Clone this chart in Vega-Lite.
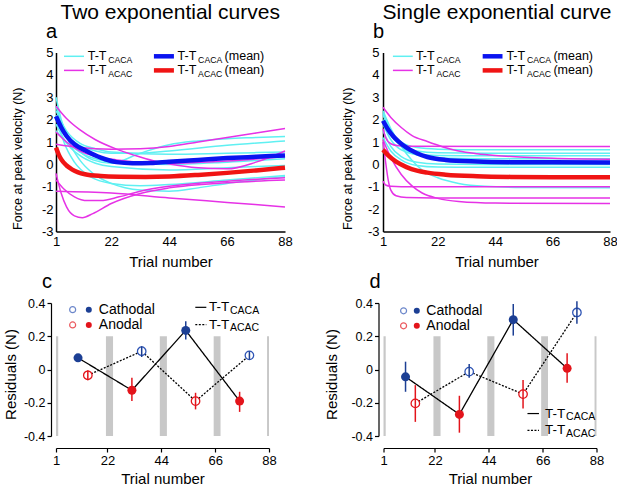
{
  "$schema": "https://vega.github.io/schema/vega-lite/v6.json",
  "background": "white",
  "padding": {"left": 2, "top": 1.5, "right": 0, "bottom": 0},
  "config": {
    "font": "Liberation Sans",
    "view": {"stroke": null},
    "axis": {"grid": false, "domainColor": "black", "tickColor": "black", "labelColor": "black", "titleColor": "black", "titleFontWeight": "normal", "labelOverlap": false, "tickCount": 20},
    "title": {"fontWeight": "normal", "color": "black"}
  },
  "resolve": {"scale": {"color": "independent", "stroke": "independent", "strokeDash": "independent"}},
  "datasets": {
    "curves": [
      {"panel":"a","curve":"c1","group":"CACA","trial":1,"force":3.0},{"panel":"a","curve":"c1","group":"CACA","trial":3,"force":2.0},{"panel":"a","curve":"c1","group":"CACA","trial":6,"force":1.0},{"panel":"a","curve":"c1","group":"CACA","trial":10,"force":0.2},{"panel":"a","curve":"c1","group":"CACA","trial":15,"force":-0.4},{"panel":"a","curve":"c1","group":"CACA","trial":22,"force":-0.85},{"panel":"a","curve":"c1","group":"CACA","trial":33,"force":-1.15},{"panel":"a","curve":"c1","group":"CACA","trial":44,"force":-1.2},{"panel":"a","curve":"c1","group":"CACA","trial":55,"force":-1.05},{"panel":"a","curve":"c1","group":"CACA","trial":66,"force":-0.85},{"panel":"a","curve":"c1","group":"CACA","trial":77,"force":-0.7},{"panel":"a","curve":"c1","group":"CACA","trial":88,"force":-0.55},
      {"panel":"a","curve":"c2","group":"CACA","trial":1,"force":2.6},{"panel":"a","curve":"c2","group":"CACA","trial":3,"force":1.9},{"panel":"a","curve":"c2","group":"CACA","trial":6,"force":1.2},{"panel":"a","curve":"c2","group":"CACA","trial":10,"force":0.6},{"panel":"a","curve":"c2","group":"CACA","trial":15,"force":0.2},{"panel":"a","curve":"c2","group":"CACA","trial":22,"force":0.05},{"panel":"a","curve":"c2","group":"CACA","trial":33,"force":0.5},{"panel":"a","curve":"c2","group":"CACA","trial":44,"force":0.88},{"panel":"a","curve":"c2","group":"CACA","trial":55,"force":1.05},{"panel":"a","curve":"c2","group":"CACA","trial":66,"force":1.15},{"panel":"a","curve":"c2","group":"CACA","trial":77,"force":1.2},{"panel":"a","curve":"c2","group":"CACA","trial":88,"force":1.25},
      {"panel":"a","curve":"c3","group":"CACA","trial":1,"force":2.0},{"panel":"a","curve":"c3","group":"CACA","trial":5,"force":1.3},{"panel":"a","curve":"c3","group":"CACA","trial":10,"force":0.85},{"panel":"a","curve":"c3","group":"CACA","trial":16,"force":0.6},{"panel":"a","curve":"c3","group":"CACA","trial":22,"force":0.5},{"panel":"a","curve":"c3","group":"CACA","trial":33,"force":0.5},{"panel":"a","curve":"c3","group":"CACA","trial":44,"force":0.6},{"panel":"a","curve":"c3","group":"CACA","trial":66,"force":0.85},{"panel":"a","curve":"c3","group":"CACA","trial":88,"force":1.05},
      {"panel":"a","curve":"c4","group":"CACA","trial":1,"force":2.4},{"panel":"a","curve":"c4","group":"CACA","trial":5,"force":1.5},{"panel":"a","curve":"c4","group":"CACA","trial":10,"force":0.95},{"panel":"a","curve":"c4","group":"CACA","trial":16,"force":0.7},{"panel":"a","curve":"c4","group":"CACA","trial":22,"force":0.55},{"panel":"a","curve":"c4","group":"CACA","trial":44,"force":0.45},{"panel":"a","curve":"c4","group":"CACA","trial":66,"force":0.5},{"panel":"a","curve":"c4","group":"CACA","trial":88,"force":0.55},
      {"panel":"a","curve":"c5","group":"CACA","trial":1,"force":1.5},{"panel":"a","curve":"c5","group":"CACA","trial":5,"force":1.0},{"panel":"a","curve":"c5","group":"CACA","trial":10,"force":0.55},{"panel":"a","curve":"c5","group":"CACA","trial":16,"force":0.25},{"panel":"a","curve":"c5","group":"CACA","trial":22,"force":0.1},{"panel":"a","curve":"c5","group":"CACA","trial":44,"force":0.0},{"panel":"a","curve":"c5","group":"CACA","trial":66,"force":0.1},{"panel":"a","curve":"c5","group":"CACA","trial":88,"force":0.25},
      {"panel":"a","curve":"c6","group":"CACA","trial":1,"force":1.8},{"panel":"a","curve":"c6","group":"CACA","trial":5,"force":0.95},{"panel":"a","curve":"c6","group":"CACA","trial":10,"force":0.4},{"panel":"a","curve":"c6","group":"CACA","trial":16,"force":0.05},{"panel":"a","curve":"c6","group":"CACA","trial":22,"force":-0.1},{"panel":"a","curve":"c6","group":"CACA","trial":44,"force":-0.25},{"panel":"a","curve":"c6","group":"CACA","trial":66,"force":-0.15},{"panel":"a","curve":"c6","group":"CACA","trial":88,"force":-0.05},
      {"panel":"a","curve":"c7","group":"CACA","trial":1,"force":2.2},{"panel":"a","curve":"c7","group":"CACA","trial":4,"force":1.0},{"panel":"a","curve":"c7","group":"CACA","trial":8,"force":0.1},{"panel":"a","curve":"c7","group":"CACA","trial":14,"force":-0.55},{"panel":"a","curve":"c7","group":"CACA","trial":22,"force":-0.85},{"panel":"a","curve":"c7","group":"CACA","trial":33,"force":-0.95},{"panel":"a","curve":"c7","group":"CACA","trial":44,"force":-0.9},{"panel":"a","curve":"c7","group":"CACA","trial":66,"force":-0.7},{"panel":"a","curve":"c7","group":"CACA","trial":88,"force":-0.5},
      {"panel":"a","curve":"m1","group":"ACAC","trial":1,"force":2.6},{"panel":"a","curve":"m1","group":"ACAC","trial":5,"force":2.05},{"panel":"a","curve":"m1","group":"ACAC","trial":10,"force":1.55},{"panel":"a","curve":"m1","group":"ACAC","trial":16,"force":1.1},{"panel":"a","curve":"m1","group":"ACAC","trial":24,"force":0.68},{"panel":"a","curve":"m1","group":"ACAC","trial":31,"force":0.4},{"panel":"a","curve":"m1","group":"ACAC","trial":38,"force":0.16},{"panel":"a","curve":"m1","group":"ACAC","trial":44,"force":0.02},{"panel":"a","curve":"m1","group":"ACAC","trial":55,"force":-0.15},{"panel":"a","curve":"m1","group":"ACAC","trial":66,"force":-0.2},{"panel":"a","curve":"m1","group":"ACAC","trial":77,"force":0.1},{"panel":"a","curve":"m1","group":"ACAC","trial":88,"force":0.6},
      {"panel":"a","curve":"m2","group":"ACAC","trial":1,"force":0.9},{"panel":"a","curve":"m2","group":"ACAC","trial":10,"force":0.75},{"panel":"a","curve":"m2","group":"ACAC","trial":22,"force":0.68},{"panel":"a","curve":"m2","group":"ACAC","trial":33,"force":0.7},{"panel":"a","curve":"m2","group":"ACAC","trial":44,"force":0.8},{"panel":"a","curve":"m2","group":"ACAC","trial":55,"force":1.0},{"panel":"a","curve":"m2","group":"ACAC","trial":66,"force":1.2},{"panel":"a","curve":"m2","group":"ACAC","trial":77,"force":1.4},{"panel":"a","curve":"m2","group":"ACAC","trial":88,"force":1.6},
      {"panel":"a","curve":"m3","group":"ACAC","trial":1,"force":1.45},{"panel":"a","curve":"m3","group":"ACAC","trial":5,"force":1.0},{"panel":"a","curve":"m3","group":"ACAC","trial":10,"force":0.6},{"panel":"a","curve":"m3","group":"ACAC","trial":16,"force":0.35},{"panel":"a","curve":"m3","group":"ACAC","trial":24,"force":0.2},{"panel":"a","curve":"m3","group":"ACAC","trial":33,"force":0.1},{"panel":"a","curve":"m3","group":"ACAC","trial":44,"force":0.05},{"panel":"a","curve":"m3","group":"ACAC","trial":66,"force":0.15},{"panel":"a","curve":"m3","group":"ACAC","trial":88,"force":0.35},
      {"panel":"a","curve":"m4","group":"ACAC","trial":1,"force":-1.2},{"panel":"a","curve":"m4","group":"ACAC","trial":22,"force":-1.28},{"panel":"a","curve":"m4","group":"ACAC","trial":44,"force":-1.5},{"panel":"a","curve":"m4","group":"ACAC","trial":66,"force":-1.7},{"panel":"a","curve":"m4","group":"ACAC","trial":88,"force":-1.9},
      {"panel":"a","curve":"m5","group":"ACAC","trial":1,"force":-0.4},{"panel":"a","curve":"m5","group":"ACAC","trial":3,"force":-1.3},{"panel":"a","curve":"m5","group":"ACAC","trial":5,"force":-1.9},{"panel":"a","curve":"m5","group":"ACAC","trial":8,"force":-2.3},{"panel":"a","curve":"m5","group":"ACAC","trial":11,"force":-2.38},{"panel":"a","curve":"m5","group":"ACAC","trial":15,"force":-2.2},{"panel":"a","curve":"m5","group":"ACAC","trial":22,"force":-1.75},{"panel":"a","curve":"m5","group":"ACAC","trial":33,"force":-1.3},{"panel":"a","curve":"m5","group":"ACAC","trial":44,"force":-1.05},{"panel":"a","curve":"m5","group":"ACAC","trial":66,"force":-0.82},{"panel":"a","curve":"m5","group":"ACAC","trial":88,"force":-0.7},
      {"panel":"a","curve":"m6","group":"ACAC","trial":1,"force":-0.7},{"panel":"a","curve":"m6","group":"ACAC","trial":4,"force":-1.1},{"panel":"a","curve":"m6","group":"ACAC","trial":8,"force":-1.45},{"panel":"a","curve":"m6","group":"ACAC","trial":13,"force":-1.62},{"panel":"a","curve":"m6","group":"ACAC","trial":18,"force":-1.62},{"panel":"a","curve":"m6","group":"ACAC","trial":25,"force":-1.45},{"panel":"a","curve":"m6","group":"ACAC","trial":33,"force":-1.2},{"panel":"a","curve":"m6","group":"ACAC","trial":44,"force":-0.98},{"panel":"a","curve":"m6","group":"ACAC","trial":66,"force":-0.75},{"panel":"a","curve":"m6","group":"ACAC","trial":88,"force":-0.6},
      {"panel":"a","curve":"mb","group":"CACA mean","trial":1,"force":2.15},{"panel":"a","curve":"mb","group":"CACA mean","trial":3,"force":1.65},{"panel":"a","curve":"mb","group":"CACA mean","trial":5,"force":1.27},{"panel":"a","curve":"mb","group":"CACA mean","trial":8,"force":0.9},{"panel":"a","curve":"mb","group":"CACA mean","trial":12,"force":0.63},{"panel":"a","curve":"mb","group":"CACA mean","trial":18,"force":0.3},{"panel":"a","curve":"mb","group":"CACA mean","trial":24,"force":0.1},{"panel":"a","curve":"mb","group":"CACA mean","trial":30,"force":0.05},{"panel":"a","curve":"mb","group":"CACA mean","trial":37,"force":0.06},{"panel":"a","curve":"mb","group":"CACA mean","trial":44,"force":0.12},{"panel":"a","curve":"mb","group":"CACA mean","trial":55,"force":0.2},{"panel":"a","curve":"mb","group":"CACA mean","trial":66,"force":0.28},{"panel":"a","curve":"mb","group":"CACA mean","trial":77,"force":0.34},{"panel":"a","curve":"mb","group":"CACA mean","trial":88,"force":0.4},
      {"panel":"a","curve":"mr","group":"ACAC mean","trial":1,"force":0.75},{"panel":"a","curve":"mr","group":"ACAC mean","trial":2,"force":0.45},{"panel":"a","curve":"mr","group":"ACAC mean","trial":3,"force":0.22},{"panel":"a","curve":"mr","group":"ACAC mean","trial":5,"force":-0.05},{"panel":"a","curve":"mr","group":"ACAC mean","trial":7,"force":-0.22},{"panel":"a","curve":"mr","group":"ACAC mean","trial":12,"force":-0.44},{"panel":"a","curve":"mr","group":"ACAC mean","trial":18,"force":-0.52},{"panel":"a","curve":"mr","group":"ACAC mean","trial":25,"force":-0.55},{"panel":"a","curve":"mr","group":"ACAC mean","trial":35,"force":-0.56},{"panel":"a","curve":"mr","group":"ACAC mean","trial":44,"force":-0.54},{"panel":"a","curve":"mr","group":"ACAC mean","trial":55,"force":-0.47},{"panel":"a","curve":"mr","group":"ACAC mean","trial":66,"force":-0.38},{"panel":"a","curve":"mr","group":"ACAC mean","trial":77,"force":-0.27},{"panel":"a","curve":"mr","group":"ACAC mean","trial":88,"force":-0.15},

      {"panel":"b","curve":"c1","group":"CACA","trial":1,"force":2.4},{"panel":"b","curve":"c1","group":"CACA","trial":4,"force":1.6},{"panel":"b","curve":"c1","group":"CACA","trial":8,"force":0.8},{"panel":"b","curve":"c1","group":"CACA","trial":12,"force":0.2},{"panel":"b","curve":"c1","group":"CACA","trial":16,"force":-0.25},{"panel":"b","curve":"c1","group":"CACA","trial":22,"force":-0.6},{"panel":"b","curve":"c1","group":"CACA","trial":30,"force":-0.85},{"panel":"b","curve":"c1","group":"CACA","trial":40,"force":-0.98},{"panel":"b","curve":"c1","group":"CACA","trial":55,"force":-1.03},{"panel":"b","curve":"c1","group":"CACA","trial":88,"force":-1.05},
      {"panel":"b","curve":"c2","group":"CACA","trial":1,"force":2.2},{"panel":"b","curve":"c2","group":"CACA","trial":4,"force":1.5},{"panel":"b","curve":"c2","group":"CACA","trial":8,"force":1.0},{"panel":"b","curve":"c2","group":"CACA","trial":14,"force":0.75},{"panel":"b","curve":"c2","group":"CACA","trial":22,"force":0.68},{"panel":"b","curve":"c2","group":"CACA","trial":40,"force":0.65},{"panel":"b","curve":"c2","group":"CACA","trial":88,"force":0.65},
      {"panel":"b","curve":"c3","group":"CACA","trial":1,"force":2.0},{"panel":"b","curve":"c3","group":"CACA","trial":4,"force":1.3},{"panel":"b","curve":"c3","group":"CACA","trial":8,"force":0.85},{"panel":"b","curve":"c3","group":"CACA","trial":14,"force":0.6},{"panel":"b","curve":"c3","group":"CACA","trial":22,"force":0.52},{"panel":"b","curve":"c3","group":"CACA","trial":40,"force":0.5},{"panel":"b","curve":"c3","group":"CACA","trial":88,"force":0.5},
      {"panel":"b","curve":"c4","group":"CACA","trial":1,"force":1.8},{"panel":"b","curve":"c4","group":"CACA","trial":4,"force":1.1},{"panel":"b","curve":"c4","group":"CACA","trial":8,"force":0.65},{"panel":"b","curve":"c4","group":"CACA","trial":14,"force":0.45},{"panel":"b","curve":"c4","group":"CACA","trial":22,"force":0.4},{"panel":"b","curve":"c4","group":"CACA","trial":40,"force":0.38},{"panel":"b","curve":"c4","group":"CACA","trial":88,"force":0.38},
      {"panel":"b","curve":"c5","group":"CACA","trial":1,"force":2.3},{"panel":"b","curve":"c5","group":"CACA","trial":4,"force":1.4},{"panel":"b","curve":"c5","group":"CACA","trial":8,"force":0.8},{"panel":"b","curve":"c5","group":"CACA","trial":14,"force":0.42},{"panel":"b","curve":"c5","group":"CACA","trial":22,"force":0.28},{"panel":"b","curve":"c5","group":"CACA","trial":40,"force":0.25},{"panel":"b","curve":"c5","group":"CACA","trial":88,"force":0.25},
      {"panel":"b","curve":"c6","group":"CACA","trial":1,"force":1.5},{"panel":"b","curve":"c6","group":"CACA","trial":4,"force":0.8},{"panel":"b","curve":"c6","group":"CACA","trial":8,"force":0.35},{"panel":"b","curve":"c6","group":"CACA","trial":14,"force":0.1},{"panel":"b","curve":"c6","group":"CACA","trial":22,"force":0.02},{"panel":"b","curve":"c6","group":"CACA","trial":40,"force":0.0},{"panel":"b","curve":"c6","group":"CACA","trial":88,"force":0.0},
      {"panel":"b","curve":"c7","group":"CACA","trial":1,"force":1.2},{"panel":"b","curve":"c7","group":"CACA","trial":4,"force":0.6},{"panel":"b","curve":"c7","group":"CACA","trial":8,"force":0.2},{"panel":"b","curve":"c7","group":"CACA","trial":14,"force":-0.05},{"panel":"b","curve":"c7","group":"CACA","trial":22,"force":-0.12},{"panel":"b","curve":"c7","group":"CACA","trial":40,"force":-0.13},{"panel":"b","curve":"c7","group":"CACA","trial":88,"force":-0.13},
      {"panel":"b","curve":"m1","group":"ACAC","trial":1,"force":2.55},{"panel":"b","curve":"m1","group":"ACAC","trial":4,"force":2.1},{"panel":"b","curve":"m1","group":"ACAC","trial":8,"force":1.65},{"panel":"b","curve":"m1","group":"ACAC","trial":12,"force":1.3},{"panel":"b","curve":"m1","group":"ACAC","trial":18,"force":1.02},{"panel":"b","curve":"m1","group":"ACAC","trial":24,"force":0.78},{"panel":"b","curve":"m1","group":"ACAC","trial":30,"force":0.6},{"panel":"b","curve":"m1","group":"ACAC","trial":37,"force":0.48},{"panel":"b","curve":"m1","group":"ACAC","trial":44,"force":0.4},{"panel":"b","curve":"m1","group":"ACAC","trial":55,"force":0.32},{"panel":"b","curve":"m1","group":"ACAC","trial":66,"force":0.27},{"panel":"b","curve":"m1","group":"ACAC","trial":88,"force":0.23},
      {"panel":"b","curve":"m2","group":"ACAC","trial":1,"force":1.6},{"panel":"b","curve":"m2","group":"ACAC","trial":2,"force":1.2},{"panel":"b","curve":"m2","group":"ACAC","trial":4,"force":0.92},{"panel":"b","curve":"m2","group":"ACAC","trial":7,"force":0.83},{"panel":"b","curve":"m2","group":"ACAC","trial":12,"force":0.81},{"panel":"b","curve":"m2","group":"ACAC","trial":88,"force":0.8},
      {"panel":"b","curve":"m3","group":"ACAC","trial":1,"force":-0.75},{"panel":"b","curve":"m3","group":"ACAC","trial":2,"force":-0.92},{"panel":"b","curve":"m3","group":"ACAC","trial":4,"force":-0.98},{"panel":"b","curve":"m3","group":"ACAC","trial":8,"force":-1.0},{"panel":"b","curve":"m3","group":"ACAC","trial":88,"force":-1.0},
      {"panel":"b","curve":"m4","group":"ACAC","trial":1,"force":1.0},{"panel":"b","curve":"m4","group":"ACAC","trial":2,"force":0.1},{"panel":"b","curve":"m4","group":"ACAC","trial":3,"force":-0.7},{"panel":"b","curve":"m4","group":"ACAC","trial":4,"force":-1.15},{"panel":"b","curve":"m4","group":"ACAC","trial":6,"force":-1.4},{"panel":"b","curve":"m4","group":"ACAC","trial":10,"force":-1.48},{"panel":"b","curve":"m4","group":"ACAC","trial":20,"force":-1.5},{"panel":"b","curve":"m4","group":"ACAC","trial":88,"force":-1.5},
      {"panel":"b","curve":"m5","group":"ACAC","trial":1,"force":1.1},{"panel":"b","curve":"m5","group":"ACAC","trial":4,"force":0.3},{"panel":"b","curve":"m5","group":"ACAC","trial":8,"force":-0.45},{"panel":"b","curve":"m5","group":"ACAC","trial":12,"force":-0.95},{"panel":"b","curve":"m5","group":"ACAC","trial":16,"force":-1.28},{"panel":"b","curve":"m5","group":"ACAC","trial":22,"force":-1.52},{"panel":"b","curve":"m5","group":"ACAC","trial":30,"force":-1.66},{"panel":"b","curve":"m5","group":"ACAC","trial":44,"force":-1.73},{"panel":"b","curve":"m5","group":"ACAC","trial":88,"force":-1.75},
      {"panel":"b","curve":"mb","group":"CACA mean","trial":1,"force":1.95},{"panel":"b","curve":"mb","group":"CACA mean","trial":3,"force":1.55},{"panel":"b","curve":"mb","group":"CACA mean","trial":5,"force":1.25},{"panel":"b","curve":"mb","group":"CACA mean","trial":7,"force":1.02},{"panel":"b","curve":"mb","group":"CACA mean","trial":10,"force":0.75},{"panel":"b","curve":"mb","group":"CACA mean","trial":14,"force":0.5},{"panel":"b","curve":"mb","group":"CACA mean","trial":18,"force":0.33},{"panel":"b","curve":"mb","group":"CACA mean","trial":25,"force":0.2},{"panel":"b","curve":"mb","group":"CACA mean","trial":37,"force":0.13},{"panel":"b","curve":"mb","group":"CACA mean","trial":50,"force":0.1},{"panel":"b","curve":"mb","group":"CACA mean","trial":66,"force":0.09},{"panel":"b","curve":"mb","group":"CACA mean","trial":88,"force":0.08},
      {"panel":"b","curve":"mr","group":"ACAC mean","trial":1,"force":0.65},{"panel":"b","curve":"mr","group":"ACAC mean","trial":3,"force":0.4},{"panel":"b","curve":"mr","group":"ACAC mean","trial":6,"force":0.12},{"panel":"b","curve":"mr","group":"ACAC mean","trial":10,"force":-0.12},{"panel":"b","curve":"mr","group":"ACAC mean","trial":14,"force":-0.28},{"panel":"b","curve":"mr","group":"ACAC mean","trial":18,"force":-0.37},{"panel":"b","curve":"mr","group":"ACAC mean","trial":25,"force":-0.46},{"panel":"b","curve":"mr","group":"ACAC mean","trial":37,"force":-0.53},{"panel":"b","curve":"mr","group":"ACAC mean","trial":50,"force":-0.56},{"panel":"b","curve":"mr","group":"ACAC mean","trial":66,"force":-0.57},{"panel":"b","curve":"mr","group":"ACAC mean","trial":88,"force":-0.57}
    ],
    "residuals": [
      {"panel":"c","seq":"CACA","polarity":"Cathodal","trial":10,"value":0.07,"lo":0.055,"hi":0.085},
      {"panel":"c","seq":"CACA","polarity":"Anodal","trial":32,"value":-0.125,"lo":-0.19,"hi":-0.05},
      {"panel":"c","seq":"CACA","polarity":"Cathodal","trial":54,"value":0.235,"lo":0.18,"hi":0.29},
      {"panel":"c","seq":"CACA","polarity":"Anodal","trial":76,"value":-0.19,"lo":-0.255,"hi":-0.134},
      {"panel":"c","seq":"ACAC","polarity":"Anodal","trial":14,"value":-0.035,"lo":-0.065,"hi":-0.005},
      {"panel":"c","seq":"ACAC","polarity":"Cathodal","trial":36,"value":0.11,"lo":0.075,"hi":0.14},
      {"panel":"c","seq":"ACAC","polarity":"Anodal","trial":58,"value":-0.19,"lo":-0.24,"hi":-0.14},
      {"panel":"c","seq":"ACAC","polarity":"Cathodal","trial":80,"value":0.085,"lo":0.06,"hi":0.11},
      {"panel":"d","seq":"CACA","polarity":"Cathodal","trial":10,"value":-0.044,"lo":-0.134,"hi":0.047},
      {"panel":"d","seq":"CACA","polarity":"Anodal","trial":32,"value":-0.27,"lo":-0.38,"hi":-0.158},
      {"panel":"d","seq":"CACA","polarity":"Cathodal","trial":54,"value":0.3,"lo":0.204,"hi":0.394},
      {"panel":"d","seq":"CACA","polarity":"Anodal","trial":76,"value":0.007,"lo":-0.08,"hi":0.098},
      {"panel":"d","seq":"ACAC","polarity":"Anodal","trial":14,"value":-0.204,"lo":-0.315,"hi":-0.094},
      {"panel":"d","seq":"ACAC","polarity":"Cathodal","trial":36,"value":-0.013,"lo":-0.05,"hi":0.033},
      {"panel":"d","seq":"ACAC","polarity":"Anodal","trial":58,"value":-0.148,"lo":-0.234,"hi":-0.063},
      {"panel":"d","seq":"ACAC","polarity":"Cathodal","trial":80,"value":0.343,"lo":0.275,"hi":0.41}
    ],
    "breaks": [
      {"start":1,"end":1.9},{"start":21.4,"end":24.3},{"start":43.4,"end":46.3},{"start":65.4,"end":68.2},{"start":87.2,"end":88}
    ]
  },
  "spacing": 2.5,
  "vconcat": [
    {
      "spacing": 47,
      "hconcat": [
        {
          "title": {"text": "Two exponential curves", "fontSize": 21, "anchor": "middle", "dx": 17.5, "offset": -1.5},
          "vconcat": [{
            "title": {"text": "a", "fontSize": 20, "anchor": "start", "frame": "group", "dx": -10, "offset": 4.6},
            "width": 229, "height": 179,
            "layer": [
              {"data": {"name": "curves"}, "transform": [{"filter": "datum.panel == 'a' && (datum.group == 'CACA' || datum.group == 'ACAC')"}],
               "mark": {"type": "line", "interpolate": "monotone", "strokeWidth": 1.5},
               "encoding": {
                 "x": {"field": "trial", "type": "quantitative", "scale": {"domain": [1, 88], "nice": false, "zero": false},
                       "axis": {"values": [1, 22, 44, 66, 88], "tickCount": 20, "title": "Trial number", "ticks": false, "labelFlush": false, "labelPadding": 4, "labelFontSize": 13, "titleFontSize": 15, "titlePadding": 6, "domainWidth": 1.5}},
                 "y": {"field": "force", "type": "quantitative", "scale": {"domain": [-3, 5], "nice": false},
                       "axis": {"values": [-3, -2, -1, 0, 1, 2, 3, 4, 5], "tickCount": 20, "labelOverlap": false, "labelExpr": "'' + datum.value", "title": "Force at peak velocity (N)", "ticks": false, "labelPadding": 3, "labelFontSize": 13, "titleFontSize": 12.5, "titleX": -31.5, "titleY": 105.7, "domainWidth": 1.5}},
                 "color": {"field": "group", "type": "nominal", "scale": {"domain": ["CACA", "ACAC", "CACA mean", "ACAC mean"], "range": ["#5ff0f2", "#e632e6", "#0a14f0", "#f01414"]}, "legend": null},
                 "detail": {"field": "curve"}
               }},
              {"data": {"name": "curves"}, "transform": [{"filter": "datum.panel == 'a' && (datum.group == 'CACA mean' || datum.group == 'ACAC mean')"}],
               "mark": {"type": "line", "interpolate": "monotone", "strokeWidth": 4.5},
               "encoding": {"x": {"field": "trial", "type": "quantitative"}, "y": {"field": "force", "type": "quantitative"}, "color": {"field": "group", "type": "nominal", "legend": null}, "detail": {"field": "curve"}}},
              {"data": {"values": [{}]}, "mark": {"type": "rule", "color": "#5ff0f2", "strokeWidth": 1.5}, "encoding": {"x": {"datum": 4.04}, "x2": {"datum": 11.64}, "y": {"datum": 4.83}}},
              {"data": {"values": [{}]}, "mark": {"type": "rule", "color": "#e632e6", "strokeWidth": 1.5}, "encoding": {"x": {"datum": 4.04}, "x2": {"datum": 11.64}, "y": {"datum": 4.2}}},
              {"data": {"values": [{}]}, "mark": {"type": "rule", "color": "#0a14f0", "strokeWidth": 4.5}, "encoding": {"x": {"datum": 38.2}, "x2": {"datum": 45.8}, "y": {"datum": 4.83}}},
              {"data": {"values": [{}]}, "mark": {"type": "rule", "color": "#f01414", "strokeWidth": 4.5}, "encoding": {"x": {"datum": 38.2}, "x2": {"datum": 45.8}, "y": {"datum": 4.2}}},
              {"data": {"values": [{}]}, "mark": {"type": "text", "text": "T-T", "align": "left", "baseline": "middle", "fontSize": 12.5}, "encoding": {"x": {"datum": 13.04}, "y": {"datum": 4.83}}},
              {"data": {"values": [{}]}, "mark": {"type": "text", "text": "CACA", "align": "left", "baseline": "middle", "fontSize": 8.7, "dx": 20.5, "dy": 3.5}, "encoding": {"x": {"datum": 13.04}, "y": {"datum": 4.83}}},
              {"data": {"values": [{}]}, "mark": {"type": "text", "text": "T-T", "align": "left", "baseline": "middle", "fontSize": 12.5}, "encoding": {"x": {"datum": 13.04}, "y": {"datum": 4.2}}},
              {"data": {"values": [{}]}, "mark": {"type": "text", "text": "ACAC", "align": "left", "baseline": "middle", "fontSize": 8.7, "dx": 20.5, "dy": 3.5}, "encoding": {"x": {"datum": 13.04}, "y": {"datum": 4.2}}},
              {"data": {"values": [{}]}, "mark": {"type": "text", "text": "T-T", "align": "left", "baseline": "middle", "fontSize": 12.5}, "encoding": {"x": {"datum": 47.2}, "y": {"datum": 4.83}}},
              {"data": {"values": [{}]}, "mark": {"type": "text", "text": "CACA", "align": "left", "baseline": "middle", "fontSize": 8.7, "dx": 20.5, "dy": 3.5}, "encoding": {"x": {"datum": 47.2}, "y": {"datum": 4.83}}},
              {"data": {"values": [{}]}, "mark": {"type": "text", "text": "(mean)", "align": "left", "baseline": "middle", "fontSize": 12.5, "dx": 47}, "encoding": {"x": {"datum": 47.2}, "y": {"datum": 4.83}}},
              {"data": {"values": [{}]}, "mark": {"type": "text", "text": "T-T", "align": "left", "baseline": "middle", "fontSize": 12.5}, "encoding": {"x": {"datum": 47.2}, "y": {"datum": 4.2}}},
              {"data": {"values": [{}]}, "mark": {"type": "text", "text": "ACAC", "align": "left", "baseline": "middle", "fontSize": 8.7, "dx": 20.5, "dy": 3.5}, "encoding": {"x": {"datum": 47.2}, "y": {"datum": 4.2}}},
              {"data": {"values": [{}]}, "mark": {"type": "text", "text": "(mean)", "align": "left", "baseline": "middle", "fontSize": 12.5, "dx": 47}, "encoding": {"x": {"datum": 47.2}, "y": {"datum": 4.2}}}
            ]
          }]
        },
        {
          "title": {"text": "Single exponential curve", "fontSize": 21, "anchor": "middle", "dx": 17, "offset": -1.5},
          "vconcat": [{
            "title": {"text": "b", "fontSize": 20, "anchor": "start", "frame": "group", "dx": -10, "offset": 4.6},
            "width": 227, "height": 179,
            "layer": [
              {"data": {"name": "curves"}, "transform": [{"filter": "datum.panel == 'b' && (datum.group == 'CACA' || datum.group == 'ACAC')"}],
               "mark": {"type": "line", "interpolate": "monotone", "strokeWidth": 1.5},
               "encoding": {
                 "x": {"field": "trial", "type": "quantitative", "scale": {"domain": [1, 88], "nice": false, "zero": false},
                       "axis": {"values": [1, 22, 44, 66, 88], "tickCount": 20, "title": "Trial number", "ticks": false, "labelFlush": false, "labelPadding": 4, "labelFontSize": 13, "titleFontSize": 15, "titlePadding": 6, "domainWidth": 1.5}},
                 "y": {"field": "force", "type": "quantitative", "scale": {"domain": [-3, 5], "nice": false},
                       "axis": {"values": [-3, -2, -1, 0, 1, 2, 3, 4, 5], "tickCount": 20, "labelOverlap": false, "labelExpr": "'' + datum.value", "title": "Force at peak velocity (N)", "ticks": false, "labelPadding": 4, "labelFontSize": 13, "titleFontSize": 12.5, "titleX": -29, "titleY": 105.7, "domainWidth": 1.5}},
                 "color": {"field": "group", "type": "nominal", "scale": {"domain": ["CACA", "ACAC", "CACA mean", "ACAC mean"], "range": ["#5ff0f2", "#e632e6", "#0a14f0", "#f01414"]}, "legend": null},
                 "detail": {"field": "curve"}
               }},
              {"data": {"name": "curves"}, "transform": [{"filter": "datum.panel == 'b' && (datum.group == 'CACA mean' || datum.group == 'ACAC mean')"}],
               "mark": {"type": "line", "interpolate": "monotone", "strokeWidth": 4.5},
               "encoding": {"x": {"field": "trial", "type": "quantitative"}, "y": {"field": "force", "type": "quantitative"}, "color": {"field": "group", "type": "nominal", "legend": null}, "detail": {"field": "curve"}}},
              {"data": {"values": [{}]}, "mark": {"type": "rule", "color": "#5ff0f2", "strokeWidth": 1.5}, "encoding": {"x": {"datum": 4.8}, "x2": {"datum": 12.4}, "y": {"datum": 4.83}}},
              {"data": {"values": [{}]}, "mark": {"type": "rule", "color": "#e632e6", "strokeWidth": 1.5}, "encoding": {"x": {"datum": 4.8}, "x2": {"datum": 12.4}, "y": {"datum": 4.2}}},
              {"data": {"values": [{}]}, "mark": {"type": "rule", "color": "#0a14f0", "strokeWidth": 4.5}, "encoding": {"x": {"datum": 39.2}, "x2": {"datum": 46.8}, "y": {"datum": 4.83}}},
              {"data": {"values": [{}]}, "mark": {"type": "rule", "color": "#f01414", "strokeWidth": 4.5}, "encoding": {"x": {"datum": 39.2}, "x2": {"datum": 46.8}, "y": {"datum": 4.2}}},
              {"data": {"values": [{}]}, "mark": {"type": "text", "text": "T-T", "align": "left", "baseline": "middle", "fontSize": 12.5}, "encoding": {"x": {"datum": 13.6}, "y": {"datum": 4.83}}},
              {"data": {"values": [{}]}, "mark": {"type": "text", "text": "CACA", "align": "left", "baseline": "middle", "fontSize": 8.7, "dx": 20.5, "dy": 3.5}, "encoding": {"x": {"datum": 13.6}, "y": {"datum": 4.83}}},
              {"data": {"values": [{}]}, "mark": {"type": "text", "text": "T-T", "align": "left", "baseline": "middle", "fontSize": 12.5}, "encoding": {"x": {"datum": 13.6}, "y": {"datum": 4.2}}},
              {"data": {"values": [{}]}, "mark": {"type": "text", "text": "ACAC", "align": "left", "baseline": "middle", "fontSize": 8.7, "dx": 20.5, "dy": 3.5}, "encoding": {"x": {"datum": 13.6}, "y": {"datum": 4.2}}},
              {"data": {"values": [{}]}, "mark": {"type": "text", "text": "T-T", "align": "left", "baseline": "middle", "fontSize": 12.5}, "encoding": {"x": {"datum": 48.3}, "y": {"datum": 4.83}}},
              {"data": {"values": [{}]}, "mark": {"type": "text", "text": "CACA", "align": "left", "baseline": "middle", "fontSize": 8.7, "dx": 20.5, "dy": 3.5}, "encoding": {"x": {"datum": 48.3}, "y": {"datum": 4.83}}},
              {"data": {"values": [{}]}, "mark": {"type": "text", "text": "(mean)", "align": "left", "baseline": "middle", "fontSize": 12.5, "dx": 47}, "encoding": {"x": {"datum": 48.3}, "y": {"datum": 4.83}}},
              {"data": {"values": [{}]}, "mark": {"type": "text", "text": "T-T", "align": "left", "baseline": "middle", "fontSize": 12.5}, "encoding": {"x": {"datum": 48.3}, "y": {"datum": 4.2}}},
              {"data": {"values": [{}]}, "mark": {"type": "text", "text": "ACAC", "align": "left", "baseline": "middle", "fontSize": 8.7, "dx": 20.5, "dy": 3.5}, "encoding": {"x": {"datum": 48.3}, "y": {"datum": 4.2}}},
              {"data": {"values": [{}]}, "mark": {"type": "text", "text": "(mean)", "align": "left", "baseline": "middle", "fontSize": 12.5, "dx": 47}, "encoding": {"x": {"datum": 48.3}, "y": {"datum": 4.2}}}
            ]
          }]
        }
      ]
    },
    {
      "spacing": 47.5,
      "hconcat": [
        {
          "title": {"text": "c", "fontSize": 20, "anchor": "start", "frame": "group", "dx": -14, "offset": 5},
          "width": 213, "height": 133,
          "layer": [
            {"data": {"name": "breaks"}, "mark": {"type": "rect", "color": "#c8c8c8"},
             "encoding": {"x": {"field": "start", "type": "quantitative"}, "x2": {"field": "end"}, "y": {"datum": 0.2}, "y2": {"datum": -0.4}}},
            {"data": {"name": "residuals"}, "transform": [{"filter": "datum.panel == 'c'"}],
             "mark": {"type": "line", "color": "black", "strokeWidth": 1.3},
             "encoding": {
               "x": {"field": "trial", "type": "quantitative", "scale": {"domain": [1, 88], "nice": false, "zero": false},
                     "axis": {"values": [1, 22, 44, 66, 88], "tickCount": 20, "title": "Trial number", "offset": 12, "tickSize": 4, "tickWidth": 1.2, "domainWidth": 1.2, "labelFlush": false, "labelPadding": 2, "labelFontSize": 13, "titleFontSize": 15, "titlePadding": 4}},
               "y": {"field": "value", "type": "quantitative", "scale": {"domain": [-0.4, 0.4], "nice": false},
                     "axis": {"values": [-0.4, -0.2, 0, 0.2, 0.4], "tickCount": 20, "labelOverlap": false, "labelExpr": "'' + datum.value", "title": "Residuals (N)", "offset": 5, "tickSize": 4, "tickWidth": 1.2, "domainWidth": 1.2, "labelPadding": 2, "labelFontSize": 12.5, "titleFontSize": 15, "titleX": -33, "titleY": 71}},
               "strokeDash": {"field": "seq", "type": "nominal", "scale": {"domain": ["CACA", "ACAC"], "range": [[1, 0], [2, 1.5]]}, "legend": null},
               "detail": {"field": "seq"}
             }},
            {"data": {"name": "residuals"}, "transform": [{"filter": "datum.panel == 'c' && datum.seq == 'ACAC'"}],
             "mark": {"type": "point", "shape": "circle", "size": 72, "strokeWidth": 1.3, "fill": "white", "opacity": 1},
             "encoding": {"x": {"field": "trial", "type": "quantitative"}, "y": {"field": "value", "type": "quantitative"},
                          "stroke": {"field": "polarity", "type": "nominal", "scale": {"domain": ["Cathodal", "Anodal"], "range": ["#2f55b5", "#e3141b"]}, "legend": null}}},
            {"data": {"name": "residuals"}, "transform": [{"filter": "datum.panel == 'c'"}],
             "mark": {"type": "rule", "strokeWidth": 1.5},
             "encoding": {"x": {"field": "trial", "type": "quantitative"}, "y": {"field": "lo", "type": "quantitative"}, "y2": {"field": "hi"},
                          "color": {"field": "polarity", "type": "nominal", "scale": {"domain": ["Cathodal", "Anodal"], "range": ["#1c3f94", "#e3141b"]}, "legend": null}}},
            {"data": {"name": "residuals"}, "transform": [{"filter": "datum.panel == 'c' && datum.seq == 'CACA'"}],
             "mark": {"type": "circle", "size": 81, "opacity": 1},
             "encoding": {"x": {"field": "trial", "type": "quantitative"}, "y": {"field": "value", "type": "quantitative"},
                          "color": {"field": "polarity", "type": "nominal", "legend": null}}},
            {"data": {"values": [{}]}, "mark": {"type": "point", "shape": "circle", "size": 36, "strokeWidth": 1.2, "color": "#2f55b5"}, "encoding": {"x": {"datum": 7.8}, "y": {"datum": 0.36}}},
            {"data": {"values": [{}]}, "mark": {"type": "circle", "size": 36, "opacity": 1, "color": "#1c3f94"}, "encoding": {"x": {"datum": 14.4}, "y": {"datum": 0.36}}},
            {"data": {"values": [{}]}, "mark": {"type": "point", "shape": "circle", "size": 36, "strokeWidth": 1.2, "color": "#e3141b"}, "encoding": {"x": {"datum": 7.8}, "y": {"datum": 0.268}}},
            {"data": {"values": [{}]}, "mark": {"type": "circle", "size": 36, "opacity": 1, "color": "#e3141b"}, "encoding": {"x": {"datum": 14.4}, "y": {"datum": 0.268}}},
            {"data": {"values": [{}]}, "mark": {"type": "text", "text": "Cathodal", "align": "left", "baseline": "middle", "fontSize": 14}, "encoding": {"x": {"datum": 18.5}, "y": {"datum": 0.36}}},
            {"data": {"values": [{}]}, "mark": {"type": "text", "text": "Anodal", "align": "left", "baseline": "middle", "fontSize": 14}, "encoding": {"x": {"datum": 18.5}, "y": {"datum": 0.268}}},
            {"data": {"values": [{}]}, "mark": {"type": "rule", "color": "black", "strokeWidth": 1.2}, "encoding": {"x": {"datum": 57.9}, "x2": {"datum": 62.4}, "y": {"datum": 0.374}}},
            {"data": {"values": [{}]}, "mark": {"type": "rule", "color": "black", "strokeWidth": 1.2, "strokeDash": [2, 1.5]}, "encoding": {"x": {"datum": 57.9}, "x2": {"datum": 62.4}, "y": {"datum": 0.27}}},
            {"data": {"values": [{}]}, "mark": {"type": "text", "text": "T-T", "align": "left", "baseline": "middle", "fontSize": 13.5}, "encoding": {"x": {"datum": 63.5}, "y": {"datum": 0.374}}},
            {"data": {"values": [{}]}, "mark": {"type": "text", "text": "CACA", "align": "left", "baseline": "middle", "fontSize": 10.5, "dx": 21, "dy": 3.5}, "encoding": {"x": {"datum": 63.5}, "y": {"datum": 0.374}}},
            {"data": {"values": [{}]}, "mark": {"type": "text", "text": "T-T", "align": "left", "baseline": "middle", "fontSize": 13.5}, "encoding": {"x": {"datum": 63.5}, "y": {"datum": 0.27}}},
            {"data": {"values": [{}]}, "mark": {"type": "text", "text": "ACAC", "align": "left", "baseline": "middle", "fontSize": 10.5, "dx": 21, "dy": 3.5}, "encoding": {"x": {"datum": 63.5}, "y": {"datum": 0.27}}}
          ]
        },
        {
          "title": {"text": "d", "fontSize": 20, "anchor": "start", "frame": "group", "dx": -14, "offset": 5},
          "width": 213, "height": 133,
          "layer": [
            {"data": {"name": "breaks"}, "mark": {"type": "rect", "color": "#c8c8c8"},
             "encoding": {"x": {"field": "start", "type": "quantitative"}, "x2": {"field": "end"}, "y": {"datum": 0.2}, "y2": {"datum": -0.4}}},
            {"data": {"name": "residuals"}, "transform": [{"filter": "datum.panel == 'd'"}],
             "mark": {"type": "line", "color": "black", "strokeWidth": 1.3},
             "encoding": {
               "x": {"field": "trial", "type": "quantitative", "scale": {"domain": [1, 88], "nice": false, "zero": false},
                     "axis": {"values": [1, 22, 44, 66, 88], "tickCount": 20, "title": "Trial number", "offset": 12, "tickSize": 4, "tickWidth": 1.2, "domainWidth": 1.2, "labelFlush": false, "labelPadding": 2, "labelFontSize": 13, "titleFontSize": 15, "titlePadding": 4}},
               "y": {"field": "value", "type": "quantitative", "scale": {"domain": [-0.4, 0.4], "nice": false},
                     "axis": {"values": [-0.4, -0.2, 0, 0.2, 0.4], "tickCount": 20, "labelOverlap": false, "labelExpr": "'' + datum.value", "title": "Residuals (N)", "offset": 5, "tickSize": 4, "tickWidth": 1.2, "domainWidth": 1.2, "labelPadding": 2, "labelFontSize": 12.5, "titleFontSize": 15, "titleX": -38.8, "titleY": 71}},
               "strokeDash": {"field": "seq", "type": "nominal", "scale": {"domain": ["CACA", "ACAC"], "range": [[1, 0], [2, 1.5]]}, "legend": null},
               "detail": {"field": "seq"}
             }},
            {"data": {"name": "residuals"}, "transform": [{"filter": "datum.panel == 'd' && datum.seq == 'ACAC'"}],
             "mark": {"type": "point", "shape": "circle", "size": 72, "strokeWidth": 1.3, "fill": "white", "opacity": 1},
             "encoding": {"x": {"field": "trial", "type": "quantitative"}, "y": {"field": "value", "type": "quantitative"},
                          "stroke": {"field": "polarity", "type": "nominal", "scale": {"domain": ["Cathodal", "Anodal"], "range": ["#2f55b5", "#e3141b"]}, "legend": null}}},
            {"data": {"name": "residuals"}, "transform": [{"filter": "datum.panel == 'd'"}],
             "mark": {"type": "rule", "strokeWidth": 1.5},
             "encoding": {"x": {"field": "trial", "type": "quantitative"}, "y": {"field": "lo", "type": "quantitative"}, "y2": {"field": "hi"},
                          "color": {"field": "polarity", "type": "nominal", "scale": {"domain": ["Cathodal", "Anodal"], "range": ["#1c3f94", "#e3141b"]}, "legend": null}}},
            {"data": {"name": "residuals"}, "transform": [{"filter": "datum.panel == 'd' && datum.seq == 'CACA'"}],
             "mark": {"type": "circle", "size": 81, "opacity": 1},
             "encoding": {"x": {"field": "trial", "type": "quantitative"}, "y": {"field": "value", "type": "quantitative"},
                          "color": {"field": "polarity", "type": "nominal", "legend": null}}},
            {"data": {"values": [{}]}, "mark": {"type": "point", "shape": "circle", "size": 36, "strokeWidth": 1.2, "color": "#2f55b5"}, "encoding": {"x": {"datum": 9.2}, "y": {"datum": 0.353}}},
            {"data": {"values": [{}]}, "mark": {"type": "circle", "size": 36, "opacity": 1, "color": "#1c3f94"}, "encoding": {"x": {"datum": 14.6}, "y": {"datum": 0.353}}},
            {"data": {"values": [{}]}, "mark": {"type": "point", "shape": "circle", "size": 36, "strokeWidth": 1.2, "color": "#e3141b"}, "encoding": {"x": {"datum": 9.2}, "y": {"datum": 0.263}}},
            {"data": {"values": [{}]}, "mark": {"type": "circle", "size": 36, "opacity": 1, "color": "#e3141b"}, "encoding": {"x": {"datum": 14.6}, "y": {"datum": 0.263}}},
            {"data": {"values": [{}]}, "mark": {"type": "text", "text": "Cathodal", "align": "left", "baseline": "middle", "fontSize": 14}, "encoding": {"x": {"datum": 18.5}, "y": {"datum": 0.353}}},
            {"data": {"values": [{}]}, "mark": {"type": "text", "text": "Anodal", "align": "left", "baseline": "middle", "fontSize": 14}, "encoding": {"x": {"datum": 18.5}, "y": {"datum": 0.263}}},
            {"data": {"values": [{}]}, "mark": {"type": "rule", "color": "black", "strokeWidth": 1.2}, "encoding": {"x": {"datum": 59.8}, "x2": {"datum": 64.5}, "y": {"datum": -0.265}}},
            {"data": {"values": [{}]}, "mark": {"type": "rule", "color": "black", "strokeWidth": 1.2, "strokeDash": [2, 1.5]}, "encoding": {"x": {"datum": 59.8}, "x2": {"datum": 64.5}, "y": {"datum": -0.366}}},
            {"data": {"values": [{}]}, "mark": {"type": "text", "text": "T-T", "align": "left", "baseline": "middle", "fontSize": 13.5}, "encoding": {"x": {"datum": 67}, "y": {"datum": -0.265}}},
            {"data": {"values": [{}]}, "mark": {"type": "text", "text": "CACA", "align": "left", "baseline": "middle", "fontSize": 10.5, "dx": 21, "dy": 3.5}, "encoding": {"x": {"datum": 67}, "y": {"datum": -0.265}}},
            {"data": {"values": [{}]}, "mark": {"type": "text", "text": "T-T", "align": "left", "baseline": "middle", "fontSize": 13.5}, "encoding": {"x": {"datum": 67}, "y": {"datum": -0.366}}},
            {"data": {"values": [{}]}, "mark": {"type": "text", "text": "ACAC", "align": "left", "baseline": "middle", "fontSize": 10.5, "dx": 21, "dy": 3.5}, "encoding": {"x": {"datum": 67}, "y": {"datum": -0.366}}}
          ]
        }
      ]
    }
  ]
}
